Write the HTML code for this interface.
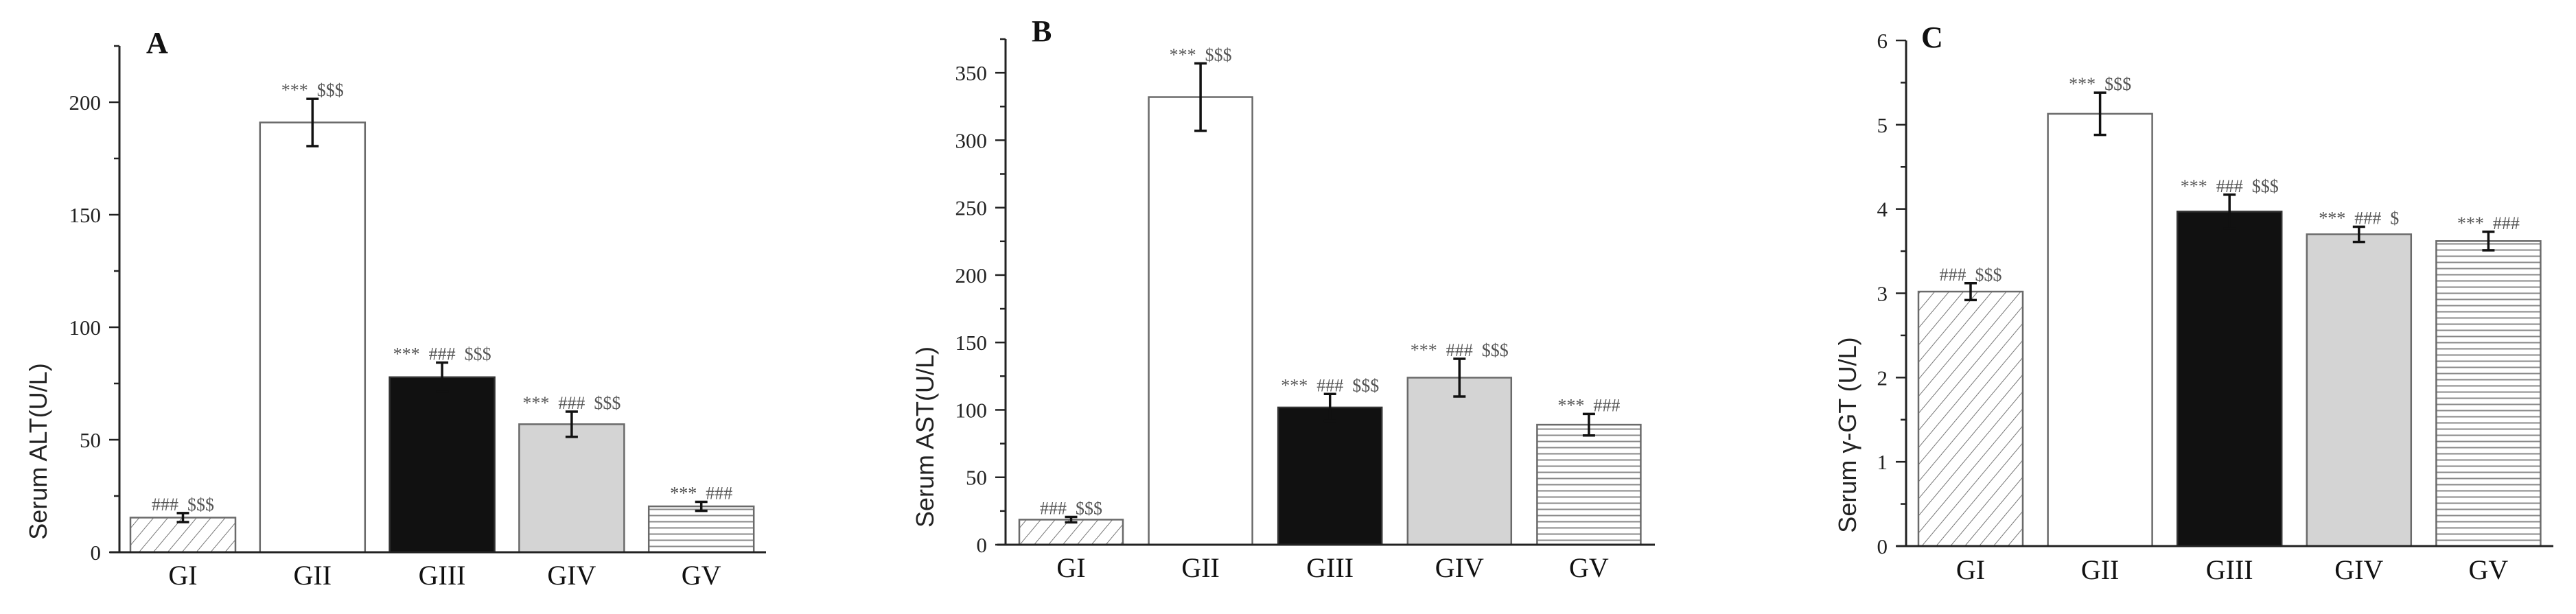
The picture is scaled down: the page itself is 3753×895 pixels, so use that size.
<!DOCTYPE html>
<html><head><meta charset="utf-8"><style>
html,body{margin:0;padding:0;background:#fff;width:3753px;height:895px;overflow:hidden}
svg{display:block}
</style></head><body>
<svg id="fig" width="3753" height="895" viewBox="0 0 3753 895" xmlns="http://www.w3.org/2000/svg">
<defs>
<pattern id="diag" patternUnits="userSpaceOnUse" width="16" height="16" patternTransform="rotate(40)"><rect width="16" height="16" fill="#fff"/><line x1="0" y1="0" x2="0" y2="16" stroke="#777" stroke-width="2"/></pattern>
<pattern id="horiz" patternUnits="userSpaceOnUse" width="10" height="9"><rect width="10" height="9" fill="#fff"/><line x1="0" y1="4.5" x2="10" y2="4.5" stroke="#888" stroke-width="2"/></pattern>
</defs>
</svg>
<script>
const categories = ["GI","GII","GIII","GIV","GV"];
const altValues = [15.4, 191, 77.8, 56.9, 20.4];
const altErrors = [2, 10.5, 6.5, 5.6, 2];
const altNotes = ["###  $$$","***  $$$","***  ###  $$$","***  ###  $$$","***  ###"];
const altTicks = [0,50,100,150,200];
const astValues = [18.6, 332, 101.8, 123.9, 89];
const astErrors = [2, 25, 10, 14, 8];
const astNotes = ["###  $$$","***  $$$","***  ###  $$$","***  ###  $$$","***  ###"];
const astTicks = [0,50,100,150,200,250,300,350];
const ggtValues = [3.02, 5.13, 3.97, 3.70, 3.62];
const ggtErrors = [0.1, 0.25, 0.2, 0.09, 0.11];
const ggtNotes = ["###  $$$","***  $$$","***  ###  $$$","***  ###  $","***  ###"];
const ggtTicks = [0,1,2,3,4,5,6];

const NS="http://www.w3.org/2000/svg";
const svg=document.getElementById('fig');
function mk(tag,attrs,parent){const e=document.createElementNS(NS,tag);for(const k in attrs)e.setAttribute(k,attrs[k]);(parent||svg).appendChild(e);return e;}
const fills=["url(#diag)","#fff","#111","#d4d4d4","url(#horiz)"];

function panel(p){
  const g=mk('g',{});
  
  
  const y=v=>p.base-(v-0)/(p.max)*(p.base-p.top);
  categories.forEach((c,i)=>{
    const x0=p.bar0+i*p.pitch;
    const r=mk('rect',{x:x0,y:y(p.vals[i]),width:p.bw,height:p.base-y(p.vals[i]),fill:fills[i],stroke:i==2?'#333':'#6a6a6a','stroke-width':2.5},g);
    
    
    const cx=x0+p.bw/2;
    const e=mk('g',{stroke:'#111','stroke-width':3.5},g);
    
    
    const yt=y(p.vals[i]+p.errs[i]),yb=y(p.vals[i]-p.errs[i]);
    mk('line',{x1:cx,x2:cx,y1:yt,y2:yb},e);
    mk('line',{x1:cx-9,x2:cx+9,y1:yt,y2:yt},e);
    mk('line',{x1:cx-9,x2:cx+9,y1:yb,y2:yb},e);
    const n=mk('text',{x:cx,y:yt-4,'text-anchor':'middle','font-family':'Liberation Serif, serif','font-size':26,fill:'#555','xml:space':'preserve'},g);
    n.setAttributeNS('http://www.w3.org/XML/1998/namespace','xml:space','preserve');
    n.style.whiteSpace='pre';
    n.textContent=p.notes[i];
    
    
    const l=mk('text',{x:cx,y:p.catY,'text-anchor':'middle','font-family':'Liberation Serif, serif','font-size':40,fill:'#111'},g);
    l.textContent=c;
    
    
  });
  const ax=mk('line',{x1:p.ax,x2:p.ax,y1:p.top,y2:p.base,stroke:'#222','stroke-width':3},g);
  
  
  const xa=mk('line',{x1:p.xa0,x2:p.xa1,y1:p.base,y2:p.base,stroke:'#222','stroke-width':3},g);
  
  
  p.ticks.forEach((t,i)=>{
    mk('line',{x1:p.ax-15,x2:p.ax,y1:y(t),y2:y(t),stroke:'#222','stroke-width':2.5},g);
    const tl=mk('text',{x:p.ax-27,y:y(t)+11,'text-anchor':'end','font-family':'Liberation Serif, serif','font-size':31,fill:'#222'},g);
    tl.textContent=t;
    
    
    const mid=t+p.step/2;
    if(mid<=p.max) mk('line',{x1:p.ax-8,x2:p.ax,y1:y(mid),y2:y(mid),stroke:'#222','stroke-width':2.5},g);
  });
  const tt=mk('text',{x:0,y:0,'text-anchor':'middle','font-family':'Liberation Sans, sans-serif','font-size':36,fill:'#222',transform:`translate(${p.titleX},${p.titleY}) rotate(-90)`},g);
  tt.textContent=p.title;
  
  
  const lt=mk('text',{x:p.letterX,y:p.letterY,'font-family':'Liberation Serif, serif','font-size':44,'font-weight':'bold',fill:'#111'},g);
  lt.textContent=p.letter;
  
  
}
panel({id:'panel-a-alt',vals:altValues,errs:altErrors,notes:altNotes,ticks:altTicks,step:50,max:225,top:67,base:805,ax:174,xa0:160,xa1:1116,bar0:190,pitch:188.8,bw:153,catY:852,title:'Serum ALT(U/L)',titleX:68,titleY:658,letter:'A',letterX:213,letterY:77});
panel({id:'panel-b-ast',vals:astValues,errs:astErrors,notes:astNotes,ticks:astTicks,step:50,max:375,top:57,base:794,ax:1465,xa0:1453,xa1:2411,bar0:1485,pitch:188.6,bw:151,catY:841,title:'Serum AST(U/L)',titleX:1360,titleY:637,letter:'B',letterX:1503,letterY:60});
panel({id:'panel-c-ggt',vals:ggtValues,errs:ggtErrors,notes:ggtNotes,ticks:ggtTicks,step:1,max:6,top:59,base:796,ax:2777,xa0:2763,xa1:3720,bar0:2795,pitch:188.6,bw:152,catY:844,title:'Serum γ-GT (U/L)',titleX:2704,titleY:634,letter:'C',letterX:2799,letterY:69});
</script>
</body></html>
